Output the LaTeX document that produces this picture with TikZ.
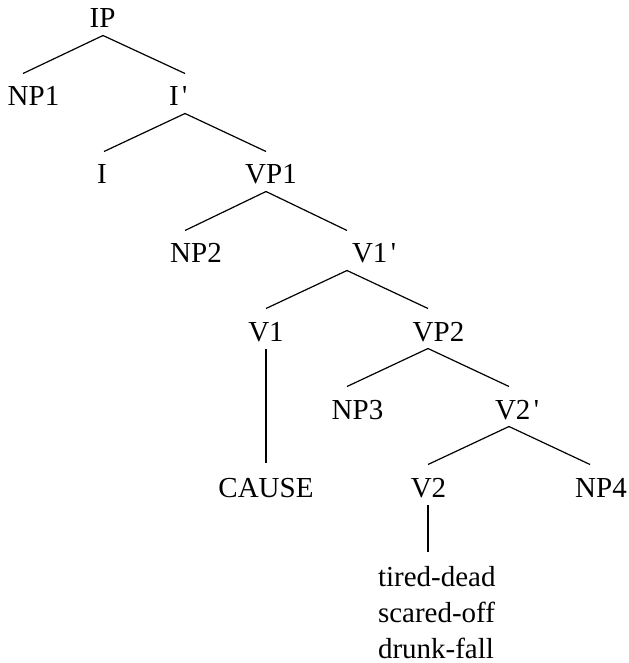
\documentclass[tikz,border=0pt]{standalone}
\usepackage{fontspec}
\setmainfont{Liberation Serif}
\usetikzlibrary{calc}
\newcommand\barmark{\hspace{0.12em}\textquotesingle}
\begin{document}
\begin{tikzpicture}[x=0.5pt,y=-0.5pt,
  lab/.style={inner sep=0pt, outer sep=0pt, anchor=base, font=\fontsize{14.5}{18}\selectfont},
  labw/.style={lab, anchor=base west},
  branch/.style={line width=0.6pt, black}]
\useasboundingbox (0,0) rectangle (628,663);
% labels
\node[lab]  (IP)    at (102.5,28)  {IP};
\node[lab]  (NP1)   at (33.5,106)  {NP1};
\node[labw] (Ibar)  at (169,106)   {I\barmark};
\node[lab]  (I)     at (102,184)   {I};
\node[lab]  (VP1)   at (271,184)   {VP1};
\node[lab]  (NP2)   at (196,263)   {NP2};
\node[labw] (V1bar) at (352,263)   {V1\barmark};
\node[lab]  (V1)    at (266,341)   {V1};
\node[lab]  (VP2)   at (438.5,341) {VP2};
\node[lab]  (NP3)   at (357.5,419) {NP3};
\node[labw] (V2bar) at (495,419)   {V2\barmark};
\node[lab]  (CAUSE) at (266,497)   {CAUSE};
\node[lab]  (V2)    at (428.5,497) {V2};
\node[lab]  (NP4)   at (601,497)   {NP4};
\node[lab, anchor=north west, align=left] (leaves) at (378,566) {tired-dead\\scared-off\\drunk-fall};
% branches
\draw[branch] ($(IP.base)+(0.5,7.5)$) -- ($(NP1.base)+(-10.5,-32.5)$);
\draw[branch] ($(IP.base)+(0.5,7.5)$) -- ($(Ibar.base west)+(16,-32.5)$);
\draw[branch] ($(Ibar.base west)+(16,7.5)$) -- ($(I.base)+(2,-32.5)$);
\draw[branch] ($(Ibar.base west)+(16,7.5)$) -- ($(VP1.base)+(-5,-32.5)$);
\draw[branch] ($(VP1.base)+(-5,7.5)$) -- ($(NP2.base)+(-11,-32.5)$);
\draw[branch] ($(VP1.base)+(-5,7.5)$) -- ($(V1bar.base west)+(-5,-32.5)$);
\draw[branch] ($(V1bar.base west)+(-5,7.5)$) -- ($(V1.base)+(0,-32.5)$);
\draw[branch] ($(V1bar.base west)+(-5,7.5)$) -- ($(VP2.base)+(-10.5,-32.5)$);
\draw[branch] ($(VP2.base)+(-10.5,7.5)$) -- ($(NP3.base)+(-10.5,-32.5)$);
\draw[branch] ($(VP2.base)+(-10.5,7.5)$) -- ($(V2bar.base west)+(14,-32.5)$);
\draw[branch] ($(V2bar.base west)+(14,7.5)$) -- ($(V2.base)+(-0.5,-32.5)$);
\draw[branch] ($(V2bar.base west)+(14,7.5)$) -- ($(NP4.base)+(-11,-32.5)$);
\draw[branch] ($(V1.base)+(0,8)$) -- ($(CAUSE.base)+(0,-34)$);
\draw[branch] ($(V2.base)+(-0.5,8)$) -- ($(leaves.north west)+(50,-14)$);
\end{tikzpicture}
\end{document}
